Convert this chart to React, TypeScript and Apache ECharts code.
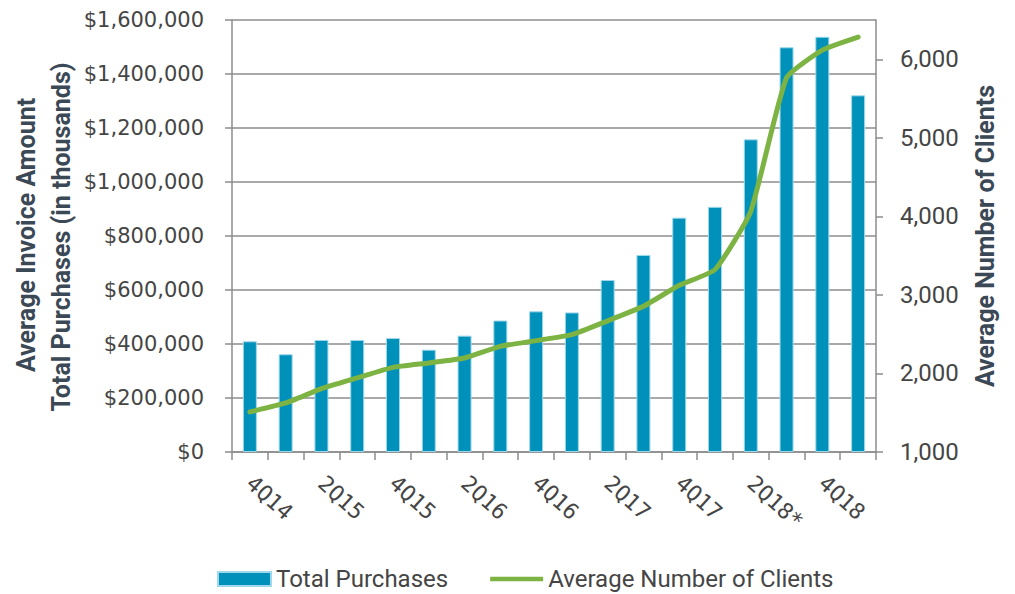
import React, { useEffect, useRef } from "react";
import * as echarts from "echarts";

const categories = ["4Q14", "1Q15", "2Q15", "3Q15", "4Q15", "1Q16", "2Q16", "3Q16", "4Q16", "1Q17", "2Q17", "3Q17", "4Q17", "1Q18", "2Q18*", "3Q18", "4Q18", "1Q19"];
const totalPurchases = [410000, 362000, 415000, 415000, 422000, 379000, 431000, 487000, 521000, 517000, 637000, 730000, 868000, 908000, 1158000, 1499000, 1538000, 1321000];
const avgClients = [1510, 1624, 1806, 1943, 2078, 2134, 2197, 2345, 2418, 2494, 2670, 2855, 3122, 3322, 4065, 5764, 6116, 6282];
const rightTicks = [1000, 2000, 3000, 4000, 5000, 6000];

const AXIS = "#8c8c8c";
const TXT = "#454545";
const TITLE = "#3b4855";
const BAR = "#0091bb";
const LINE = "#7db343";

export default function App() {
  const ref = useRef<HTMLDivElement>(null);
  useEffect(() => {
    if (!ref.current) return;
    const chart = echarts.init(ref.current, null, { renderer: "svg" });
    const titleStyle = (text: string) => ({
      text,
      font: "bold 25px Roboto, sans-serif",
      fill: TITLE,
      textAlign: "center",
      textVerticalAlign: "middle",
      align: "center",
      verticalAlign: "middle",
    });
    chart.setOption({
      animation: false,
      backgroundColor: "#ffffff",
      grid: { left: 232, right: 139, top: 20, bottom: 142 },
      legend: {
        left: 212,
        top: 562,
        itemWidth: 53,
        itemHeight: 14,
        itemGap: 42,
        data: [
          { name: "Total Purchases", icon: "rect" },
          { name: "Average Number of Clients", icon: "path://M0,0L56,0L56,4.5L0,4.5Z", itemStyle: { color: LINE } },
        ],
        textStyle: { fontFamily: "Roboto, sans-serif", fontSize: 24, color: TXT },
      },
      xAxis: {
        type: "category",
        data: categories,
        boundaryGap: true,
        axisLine: { lineStyle: { color: AXIS, width: 1.5 } },
        axisTick: { show: true, interval: 0, length: 8, lineStyle: { color: AXIS, width: 1.5 } },
        axisLabel: {
          interval: 1,
          rotate: -42,
          margin: 28,
          fontFamily: "'DejaVu Sans Mono', monospace",
          fontSize: 22,
          color: TXT,
        },
      },
      yAxis: [
        {
          type: "value",
          min: 0,
          max: 1600000,
          interval: 200000,
          axisLine: { show: true, lineStyle: { color: AXIS, width: 1.5 } },
          axisTick: { show: true, length: 7, lineStyle: { color: AXIS, width: 1.5 } },
          splitLine: { show: true, lineStyle: { color: AXIS, width: 1.5 } },
          axisLabel: {
            margin: 28,
            fontFamily: "'DejaVu Sans', sans-serif",
            fontSize: 21,
            color: TXT,
            formatter: (v: number) => "$" + v.toLocaleString("en-US"),
          },
        },
        {
          type: "value",
          position: "right",
          min: 1000,
          max: 6500,
          interval: 1000,
          axisLine: { show: true, lineStyle: { color: AXIS, width: 1.5 } },
          axisTick: { show: true, length: 7, customValues: rightTicks, lineStyle: { color: AXIS, width: 1.5 } },
          splitLine: { show: false },
          axisLabel: {
            margin: 24,
            customValues: rightTicks,
            fontFamily: "Roboto, sans-serif",
            fontSize: 24,
            color: TXT,
            formatter: (v: number) => (v > 6000 ? "" : v.toLocaleString("en-US")),
          },
        },
      ],
      graphic: [
        { type: "text", x: 26, y: 235, rotation: Math.PI / 2, style: titleStyle("Average Invoice Amount") },
        { type: "text", x: 61, y: 237, rotation: Math.PI / 2, style: titleStyle("Total Purchases (in thousands)") },
        { type: "text", x: 985, y: 236, rotation: Math.PI / 2, style: titleStyle("Average Number of Clients") },
      ],
      series: [
        {
          name: "Total Purchases",
          type: "bar",
          data: totalPurchases,
          barWidth: 14,
          itemStyle: { color: BAR, borderColor: "#9fd8ea", borderWidth: 1 },
        },
        {
          name: "Average Number of Clients",
          type: "line",
          yAxisIndex: 1,
          data: avgClients,
          smooth: 0.15,
          symbol: "none",
          showSymbol: false,
          z: 5,
          itemStyle: { color: LINE },
          lineStyle: { color: LINE, width: 5, cap: "round", join: "round" },
        },
      ],
    });
    return () => chart.dispose();
  }, []);
  return (
    <div
      ref={ref}
      style={{ position: "absolute", left: 0, top: 0, width: 1015, height: 594 }}
    />
  );
}
